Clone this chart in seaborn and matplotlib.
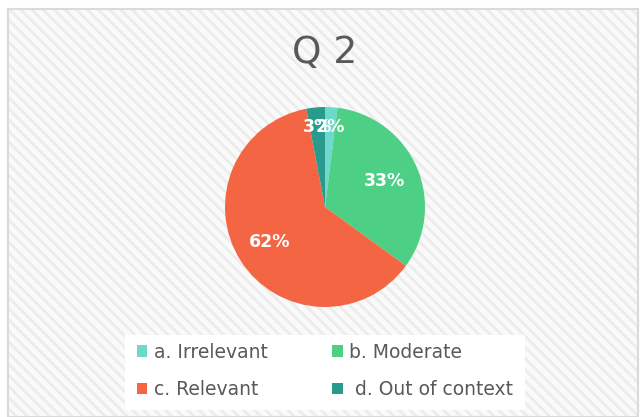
import matplotlib
matplotlib.use("Agg")
import matplotlib.pyplot as plt
from matplotlib.patches import Rectangle, Patch
import numpy as np
import seaborn as sns

categories = ["a. Irrelevant", "b. Moderate", "c. Relevant", " d. Out of context"]
values = [2, 33, 62, 3]
title = "Q 2"

sns.set_theme(style="white")
plt.rcParams["font.family"] = ["DejaVu Sans"]
plt.rcParams["hatch.linewidth"] = 2.0

colors = sns.color_palette(["#6DD9CB", "#4ECF86", "#F46543", "#2A9A8C"])

W, H = 641, 417
fig = plt.figure(figsize=(W / 100, H / 100), dpi=100)
fig.patch.set_facecolor("white")

# chart frame with subtle diagonal hatch
hatchbg = Rectangle((8 / W, 0), 630 / W, (H - 9) / H, transform=fig.transFigure,
                    facecolor="#FAFAFA", edgecolor="#ECECEC", linewidth=0,
                    hatch="\\\\\\", zorder=-3)
fig.patches.append(hatchbg)
border = Rectangle((8 / W, 0), 630 / W, (H - 9) / H, transform=fig.transFigure,
                   facecolor="none", edgecolor="#DADADA", linewidth=1.5, zorder=-2)
fig.patches.append(border)
# white legend background
legbg = Rectangle((125 / W, 1 - 410 / H), 400 / W, 75 / H, transform=fig.transFigure,
                  facecolor="white", edgecolor="none", zorder=-1)
fig.patches.append(legbg)

cx, cy, r = 325, 207, 100
ax = fig.add_axes([(cx - r) / W, 1 - (cy + r) / H, 2 * r / W, 2 * r / H])
ax.set_facecolor("none")
ax.set_zorder(2)

wedges, texts, autotexts = ax.pie(
    values, colors=colors, startangle=90, counterclock=False,
    autopct=lambda p: f"{p:.0f}%", pctdistance=0.65,
    wedgeprops=dict(linewidth=0),
    textprops=dict(color="white", fontsize=12.5, fontweight="bold"),
)
total = sum(values)
for w, t, v in zip(wedges, autotexts, values):
    if v / total < 0.05:
        ang = np.deg2rad((w.theta1 + w.theta2) / 2)
        t.set_position((0.8 * np.cos(ang), 0.8 * np.sin(ang)))
for w in wedges:
    w.set_clip_on(False)
ax.set_xlim(-1, 1)
ax.set_ylim(-1, 1)
ax.set_aspect("equal")
ax.axis("off")

fig.text(325 / W, 1 - 53 / H, title, ha="center", va="center",
         fontsize=27, color="#595959")

order = [0, 2, 1, 3]
handles = [Patch(facecolor=colors[i], edgecolor="none") for i in order]
labels = [categories[i] for i in order]
leg = fig.legend(handles, labels, ncol=2, loc="center",
                 bbox_to_anchor=(325 / W, 1 - 371 / H), frameon=False,
                 fontsize=13.5, labelcolor="#595959", handlelength=0.55,
                 handleheight=0.55, handletextpad=0.35, columnspacing=3.45,
                 labelspacing=1.0)
leg.set_zorder(3)

fig.savefig("out.png", dpi=100)
